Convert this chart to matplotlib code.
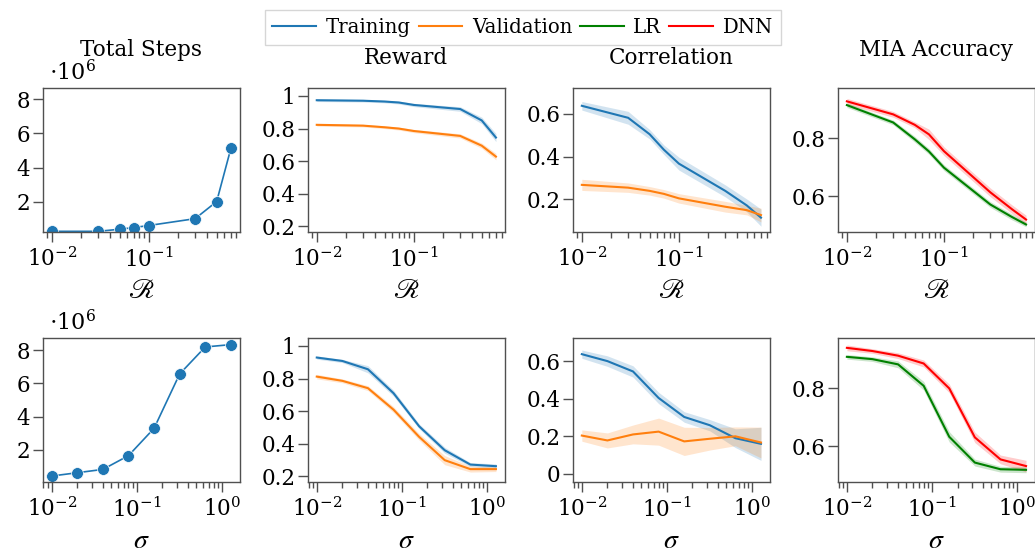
import numpy as np
import matplotlib
matplotlib.use('Agg')
import matplotlib.pyplot as plt
from matplotlib.ticker import FuncFormatter, FixedLocator
from matplotlib.lines import Line2D

plt.rcParams['font.family'] = ['DejaVu Serif']
plt.rcParams['mathtext.fontset'] = 'stix'
plt.rcParams['font.size'] = 14

# x values
r_vals = [0.01, 0.03, 0.05, 0.07, 0.1, 0.3, 0.5, 0.7]
sigma_vals = [0.01, 0.02, 0.04, 0.08, 0.16, 0.32, 0.64, 1.28]

# total steps
steps_r = [280000, 280000, 400000, 500000, 620000, 1020000, 2020000, 5120000]
steps_sigma = [410000, 610000, 810000, 1640000, 3290000, 6570000, 8200000, 8340000]

# reward
reward_train_r = [0.974, 0.971, 0.966, 0.960, 0.945, 0.920, 0.850, 0.745]
reward_train_r_err = [0.008, 0.008, 0.008, 0.009, 0.010, 0.014, 0.020, 0.025]
reward_val_r = [0.823, 0.818, 0.808, 0.800, 0.785, 0.755, 0.695, 0.628]
reward_val_r_err = [0.008, 0.008, 0.008, 0.009, 0.010, 0.013, 0.016, 0.020]
reward_train_sigma = [0.929, 0.908, 0.857, 0.710, 0.507, 0.360, 0.272, 0.262]
reward_train_sigma_err = [0.010, 0.010, 0.022, 0.018, 0.015, 0.018, 0.012, 0.014]
reward_val_sigma = [0.812, 0.786, 0.741, 0.609, 0.442, 0.299, 0.244, 0.244]
reward_val_sigma_err = [0.014, 0.012, 0.015, 0.018, 0.020, 0.028, 0.018, 0.015]

# correlation
corr_train_r = [0.637, 0.581, 0.504, 0.432, 0.367, 0.240, 0.172, 0.115]
corr_train_r_err = [0.020, 0.030, 0.022, 0.022, 0.030, 0.028, 0.030, 0.040]
corr_val_r = [0.268, 0.255, 0.240, 0.226, 0.205, 0.166, 0.150, 0.127]
corr_val_r_err = [0.026, 0.022, 0.020, 0.020, 0.022, 0.025, 0.022, 0.032]
corr_train_sigma = [0.637, 0.600, 0.545, 0.404, 0.303, 0.259, 0.190, 0.160]
corr_train_sigma_err = [0.022, 0.028, 0.030, 0.030, 0.028, 0.030, 0.050, 0.088]
corr_val_sigma = [0.204, 0.178, 0.210, 0.225, 0.173, 0.187, 0.200, 0.167]
corr_val_sigma_err = [0.030, 0.040, 0.050, 0.072, 0.075, 0.060, 0.050, 0.082]

# MIA accuracy
mia_lr_r = [0.915, 0.855, 0.797, 0.755, 0.699, 0.572, 0.529, 0.503]
mia_lr_r_err = [0.008, 0.008, 0.010, 0.010, 0.010, 0.010, 0.010, 0.008]
mia_dnn_r = [0.928, 0.883, 0.847, 0.814, 0.756, 0.614, 0.556, 0.520]
mia_dnn_r_err = [0.010, 0.010, 0.010, 0.018, 0.015, 0.015, 0.015, 0.015]
mia_lr_sigma = [0.909, 0.901, 0.883, 0.809, 0.633, 0.544, 0.521, 0.519]
mia_lr_sigma_err = [0.008, 0.008, 0.012, 0.015, 0.018, 0.012, 0.010, 0.010]
mia_dnn_sigma = [0.940, 0.929, 0.913, 0.886, 0.800, 0.631, 0.555, 0.532]
mia_dnn_sigma_err = [0.010, 0.008, 0.010, 0.012, 0.015, 0.018, 0.015, 0.020]

col_train = '#1f77b4'
col_val = '#ff7f0e'
col_lr = 'green'
col_dnn = 'red'
spine_col = '#505050'

fig, axes = plt.subplots(2, 4, figsize=(10.35, 5.56), dpi=100)
fig.subplots_adjust(left=0.0413, right=1.0, top=0.8417, bottom=0.1331, wspace=0.345, hspace=0.736)

fmt = FuncFormatter(lambda v, p: f'{v:g}')


def band(ax, x, y, err, color):
    y = np.asarray(y); err = np.asarray(err)
    ax.fill_between(x, y - err, y + err, color=color, alpha=0.2, linewidth=0)
    ax.plot(x, y, color=color, linewidth=1.5)


def style(ax, yticks, ylim, xlabel):
    ax.set_xscale('log')
    ax.set_ylim(*ylim)
    ax.yaxis.set_major_locator(FixedLocator(yticks))
    ax.set_xlabel(xlabel, fontsize=20, labelpad=4)
    for s in ax.spines.values():
        s.set_color(spine_col); s.set_linewidth(1.0)
    ax.tick_params(which='major', length=7, width=1.0, color=spine_col, pad=2, labelsize=15.5)
    ax.tick_params(axis='x', which='major', pad=4)
    ax.tick_params(which='minor', length=4, width=1.0, color=spine_col)


rows = [
    (r_vals, r'$\mathscr{R}$', steps_r, (240000, 8650000),
     reward_train_r, reward_train_r_err, reward_val_r, reward_val_r_err,
     corr_train_r, corr_train_r_err, corr_val_r, corr_val_r_err, (0.048, 0.72), [0.2, 0.4, 0.6],
     mia_lr_r, mia_lr_r_err, mia_dnn_r, mia_dnn_r_err),
    (sigma_vals, r'$\sigma$', steps_sigma, (50000, 8740000),
     reward_train_sigma, reward_train_sigma_err, reward_val_sigma, reward_val_sigma_err,
     corr_train_sigma, corr_train_sigma_err, corr_val_sigma, corr_val_sigma_err, (-0.043, 0.723), [0, 0.2, 0.4, 0.6],
     mia_lr_sigma, mia_lr_sigma_err, mia_dnn_sigma, mia_dnn_sigma_err),
]

for i, (x, xl, steps, slim, rt, rte, rv, rve, ct, cte, cv, cve, clim, cticks, ml, mle, md, mde) in enumerate(rows):
    ax = axes[i, 0]
    ax.plot(x, steps, color=col_train, linewidth=1.2, marker='o', markersize=8.5,
            markeredgecolor='white', markeredgewidth=0.5)
    style(ax, [2e6, 4e6, 6e6, 8e6], slim, xl)
    ax.yaxis.set_major_formatter(FuncFormatter(lambda v, p: f'{v / 1e6:g}'))
    ax.text(0.03, 1.02, r'$\cdot 10^{6}$', transform=ax.transAxes, fontsize=16, ha='left', va='bottom',
            math_fontfamily='dejavuserif')

    ax = axes[i, 1]
    band(ax, x, rt, rte, col_train)
    band(ax, x, rv, rve, col_val)
    style(ax, [0.2, 0.4, 0.6, 0.8, 1.0], (0.165, 1.049), xl)
    ax.yaxis.set_major_formatter(fmt)

    ax = axes[i, 2]
    band(ax, x, ct, cte, col_train)
    band(ax, x, cv, cve, col_val)
    style(ax, cticks, clim, xl)
    ax.yaxis.set_major_formatter(fmt)

    ax = axes[i, 3]
    band(ax, x, ml, mle, col_lr)
    band(ax, x, md, mde, col_dnn)
    style(ax, [0.6, 0.8], (0.477, 0.974), xl)
    ax.yaxis.set_major_formatter(fmt)

titles = ['Total Steps', 'Reward', 'Correlation', 'MIA Accuracy']
pads = [23, 17, 17, 23]
for ax, t, p in zip(axes[0], titles, pads):
    ax.set_title(t, fontsize=15.5, y=1.0, pad=p)

handles = [Line2D([], [], color=c, linewidth=1.5) for c in [col_train, col_val, col_lr, col_dnn]]
leg = fig.legend(handles, ['Training', 'Validation', 'LR', 'DNN'], loc='upper center',
                 bbox_to_anchor=(0.505, 1.0), ncol=4, fontsize=14.2, frameon=True, fancybox=False,
                 handlelength=2.2, handletextpad=0.5, columnspacing=0.4, borderpad=0.4)
leg.get_frame().set_edgecolor('#cccccc')
leg.get_frame().set_linewidth(1.0)

fig.savefig('out.png', dpi=100)
